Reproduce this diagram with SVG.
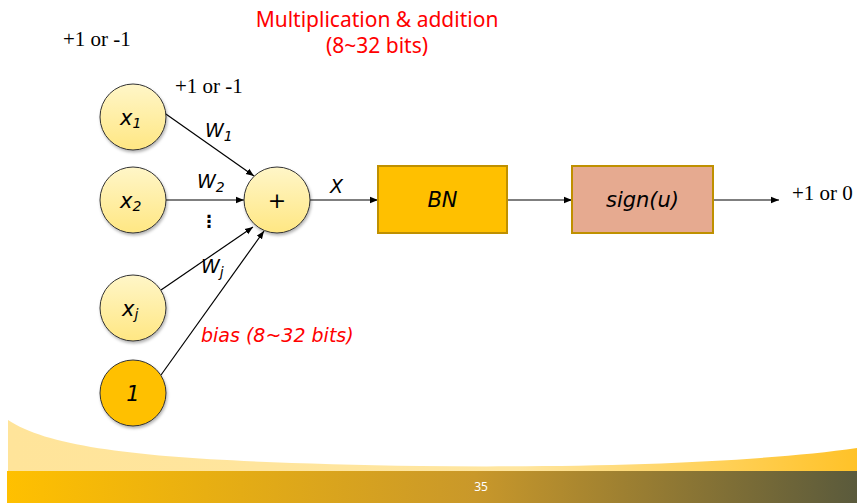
<svg xmlns="http://www.w3.org/2000/svg" width="857" height="503" viewBox="0 0 857 503">
<defs>
<style>
.node{stroke:#333;stroke-width:1}
.lt{fill:url(#gy)}
.lbl{font-family:"DejaVu Sans",Verdana,sans-serif;font-style:italic;font-size:21px;fill:#000}
.sub{font-size:14px}
.tm{font-family:"Liberation Serif","Times New Roman",serif;font-size:21px;fill:#000}
.red{font-family:"Noto Sans","DejaVu Sans",sans-serif;font-size:21px;fill:#FF0000}
.ln{stroke:#000;stroke-width:1.2;fill:none}
</style>
<linearGradient id="gy" x1="0" y1="0" x2="0" y2="1">
<stop offset="0" stop-color="#FFF6C8"/><stop offset="1" stop-color="#FFE783"/>
</linearGradient>
<linearGradient id="bar" x1="0" y1="0" x2="1" y2="0">
<stop offset="0" stop-color="#FFC000"/><stop offset="0.55" stop-color="#C9982A"/><stop offset="1" stop-color="#5A5A3C"/>
</linearGradient>
<linearGradient id="wave" x1="0" y1="0" x2="1" y2="0">
<stop offset="0" stop-color="#FFE49A"/><stop offset="0.6" stop-color="#FFE6A0"/><stop offset="1" stop-color="#FFC228"/>
</linearGradient>
<filter id="sh" x="-20%" y="-20%" width="140%" height="150%">
<feDropShadow dx="1" dy="2" stdDeviation="1.5" flood-color="#000" flood-opacity="0.3"/>
</filter>
<marker id="ah" viewBox="0 0 10 10" refX="10" refY="5" markerWidth="8" markerHeight="8" markerUnits="userSpaceOnUse" orient="auto">
<path d="M0,1 L10,5 L0,9 z" fill="#000"/>
</marker>
</defs>
<rect width="857" height="503" fill="#fff"/>

<g id="footer">
<path d="M8,420 C60,455 200,462 420,466 C600,468 760,462 857,448 L857,471 L8,471 Z" fill="url(#wave)"/>
<rect x="7" y="471" width="850" height="32" fill="url(#bar)"/>
<text x="481" y="491" text-anchor="middle" font-family="Noto Sans,DejaVu Sans,sans-serif" font-size="12" fill="#fff">35</text>
</g>

<g id="connectors">
<line class="ln" x1="163" y1="112" x2="254" y2="176" marker-end="url(#ah)"/>
<line class="ln" x1="166" y1="200" x2="244" y2="200" marker-end="url(#ah)"/>
<line class="ln" x1="161" y1="290" x2="253" y2="227" marker-end="url(#ah)"/>
<line class="ln" x1="161" y1="375" x2="264" y2="231" marker-end="url(#ah)"/>
<line class="ln" x1="310" y1="200" x2="378" y2="200" marker-end="url(#ah)"/>
<line class="ln" x1="507" y1="200" x2="572" y2="200" marker-end="url(#ah)"/>
<line class="ln" x1="713" y1="200" x2="779" y2="200" marker-end="url(#ah)"/>
<text class="lbl" x="205" y="137" style="font-size:19px">W<tspan class="sub" dy="4">1</tspan></text>
<text class="lbl" x="197" y="188" style="font-size:19px">W<tspan class="sub" dy="4">2</tspan></text>
<text x="209" y="227" font-family="DejaVu Sans,sans-serif" font-size="17" font-weight="bold" fill="#000" text-anchor="middle">⋮</text>
<text class="lbl" x="201" y="273" style="font-size:19px">W<tspan class="sub" dy="4">j</tspan></text>
<text class="lbl" x="330" y="193" style="font-size:19px">X</text>
<text class="lbl" x="201" y="342" style="fill:#FF0000;font-size:19px">bias (8~32 bits)</text>
</g>

<g id="x1"><circle class="node lt" cx="133" cy="117" r="33" filter="url(#sh)"/><text class="lbl" x="120" y="125">x<tspan class="sub" dy="3">1</tspan></text></g>
<g id="x2"><circle class="node lt" cx="133" cy="200" r="33" filter="url(#sh)"/><text class="lbl" x="120" y="208">x<tspan class="sub" dy="3">2</tspan></text></g>
<g id="xj"><circle class="node lt" cx="133" cy="308" r="33" filter="url(#sh)"/><text class="lbl" x="122" y="316">x<tspan class="sub" dy="3">j</tspan></text></g>
<g id="one"><circle class="node" cx="133" cy="393" r="33" fill="#FFC000" filter="url(#sh)"/><text class="lbl" x="133" y="401" text-anchor="middle">1</text></g>
<g id="sum"><circle class="node lt" cx="277" cy="200" r="33" filter="url(#sh)"/><text x="277" y="208" text-anchor="middle" font-family="DejaVu Sans,sans-serif" font-size="22">+</text></g>
<g id="bn"><rect x="378" y="166" width="129" height="67" fill="#FFC000" stroke="#BF9000" stroke-width="2"/><text class="lbl" x="442.5" y="207" text-anchor="middle">BN</text></g>
<g id="sign"><rect x="572" y="166" width="141" height="67" fill="#E6AA90" stroke="#BF9000" stroke-width="2"/><text class="lbl" x="642.5" y="207" text-anchor="middle">sign(u)</text></g>

<g id="texts">
<text class="tm" x="63" y="46">+1 or -1</text>
<text class="tm" x="175" y="93">+1 or -1</text>
<text class="tm" x="792" y="200">+1 or 0</text>
<text class="red" x="377" y="27" text-anchor="middle">Multiplication &amp; addition</text>
<text class="red" x="377" y="53" text-anchor="middle">(8~32 bits)</text>
</g>
</svg>
